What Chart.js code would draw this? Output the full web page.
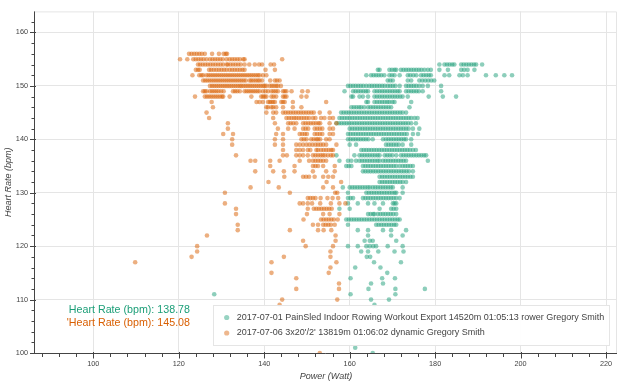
<!DOCTYPE html>
<html>
<head>
<meta charset="utf-8">
<script src="https://cdn.jsdelivr.net/npm/chart.js@4.4.1/dist/chart.umd.min.js"></script>
<style>
html,body{margin:0;padding:0;background:#fff;}
#wrap{width:620px;height:384px;position:relative;}
</style>
</head>
<body>
<div id="wrap"><canvas id="c" width="620" height="384"></canvas></div>
<script>
// ---------- DATA ----------
const seriesNames = [
  "2017-07-01 PainSled Indoor Rowing Workout Export 14520m 01:05:13 rower Gregory Smith",
  "2017-07-06 3x20'/2' 13819m 01:06:02 dynamic Gregory Smith"
];
const annotationTexts = ["Heart Rate (bpm): 138.78", "'Heart Rate (bpm): 145.08"];
const xAxisTitle = "Power (Watt)";
const yAxisTitle = "Heart Rate (bpm)";
const xMajorTicks = [100, 120, 140, 160, 180, 200, 220];
const yMajorTicks = [100, 110, 120, 130, 140, 150, 160];

// Series 1 (green): heart-rate rows and the power readings in each row
const greenHR = [154,153,152,151,150,149,148,147,146,145,144,143,142,141,140,139,138,137,136,135,134,133,132,131,130,129,128,127,126,125,124,123,122,121,120,119,118,117,116,115,114,113,112,111,110,109,101,100];
const greenPower = [
  [181,182.2,182.8,183.4,184,184.5,186.1,186.7,187.3,187.9,188.5,189.1,189.6,191],
  [166.6,167,169.3,169.9,170.5,170.9,172,172.6,173.2,173.8,174.4,175,175.6,176.2,176.8,177.5,178.3,179,181,183,186.1,186.8,187.6,189.2],
  [163.9,165,165.6,166.2,166.8,167.4,168.1,169.3,169.9,170.5,171.7,173.6,174.2,174.9,175.6,176.7,177.3,177.9,178.5,179,182.2,183.3,185.7,186.5,187.6,191.9,194.2,196.2,198],
  [168.9,169.5,170.1,173.6,174.4,176.3,177,177.7,178.4,179.1,179.8],
  [159.6,160.2,160.8,161.4,162,162.6,163.2,163.9,164.6,165.2,165.8,166.4,167,167.6,168.2,168.9,169.5,170.1,170.7,171.7,173.2,173.8,174.4,175,175.6,176.3,177.1,178.3,181.4],
  [158.8,160.8,161.4,162,162.6,163.2,163.8,164.3,165.8,166.4,167,167.6,168.2,168.8,169.4,170,170.6,171.2,171.7,173.2,173.8,174.4,175,175.6,176.2,177.1,181.4],
  [160.4,160.8,162.3,163.1,164.3,165.8,166.4,167,167.6,168.2,168.8,169.4,170,170.6,171.2,171.8,172.4,173.6,178.5,181.8,184.9],
  [163.9,164.3,165.8,166.4,167,167.6,168.2,168.8,169.3,170,170.5,174.4],
  [160.4,161,161.6,162.2,162.7,163.4,164.3,164.9,165.5,166.1,166.7,167.3,167.9,168.5,169.1,169.7,174],
  [158,158.6,159.2,159.8,160.4,161,161.6,162.2,162.8,163.4,164,164.6,165.2,165.8,166.4,167,167.6,168.2,168.8,169.4,170,170.6,171.2,171.8,172.4,173.2],
  [157.6,158.2,158.8,159.4,160,160.6,161.2,161.8,162.4,163,163.6,164.2,164.8,165.4,166,166.6,167.2,167.8,168.4,169,169.6,170.2,170.8,171.4,172,172.6,173.2,173.8,174.4,175.2,175.9],
  [156.9,157.5,158.1,158.7,159.3,159.9,160.5,161.1,161.7,162.3,162.9,163.5,164.1,164.7,165.3,165.9,166.5,167.1,167.7,168.3,168.9,169.5,170.1,170.7,171.3,171.9,172.5,173.1,173.7,174.4,175.5],
  [160,160.6,161.2,161.8,162.4,163,163.6,164.2,164.8,165.4,166,166.6,167.2,167.8,168.4,169,169.6,170.2,170.8,171.4,172,172.6,173.2,173.8,174.8,176.3],
  [159.6,160.2,160.8,161.4,162,162.6,163.2,163.8,164.4,165,165.6,166.2,166.8,167.4,168,168.6,169.2,169.8,170.4,171,171.6,172.2,172.8,173.4,174.8,176],
  [159.6,160.2,160.8,161.4,162,162.6,163.2,163.8,164.4,165.4,167.8,168.5,169.1,169.7,170.3,170.9,171.5,172.1,172.7,173.2,174.4],
  [160,161.5,168.5,169.1,169.7,170.3,170.9,171.5,172.4,174.4],
  [162.7,163.3,163.9,164.5,165.1,165.7,166.3,166.9,167.5,168.1,168.7,169.3,169.9,170.5,171.1,171.7,172.3,172.9,173.5,174.1,174.8,175.5],
  [156.9,161.1,162.3,162.9,163.5,164.1,164.7,165.3,165.9,166.5,167,168.2,168.8,169.4,170,170.9,172,172.6,173.2,173.8,174.4,175,175.6,176.2,176.8,177.4,177.9],
  [157.6,159.6,160.4,161.5,162.3,162.9,163.5,164.1,164.7,165.3,165.9,166.5,167,167.8,168.4,169,169.6,170.2,170.8,171.4,172,172.6,173.2,178.3],
  [159.2,159.8,160.4,163.1,163.7,164.3,164.9,165.5,166.1,166.7,167.3,167.9,168.5,169.1,169.7,170.3,170.9,171.7,172.4,173,173.6,174.2,174.8],
  [163.1,163.7,164.3,164.9,165.5,166.1,166.7,167.3,167.9,168.5,169.1,169.7,170.3,170.9,171.5,172.1,172.7,173.3,173.9,174.8],
  [167,167.6,168.2,168.8,169.4,170,170.6,171.2,171.8,172.4,173,173.6,174.2,174.8],
  [167,167.6,168.2,168.8,169.4,170,170.6,171.2,171.8,172.4,173.2],
  [158.4,160,160.6,161.2,161.8,162.4,163,163.6,164.2,164.7,165.4,166,166.6,167.2,167.8,168.4,169,169.6,170.1,172.4],
  [159.6,163.9,164.5,165.1,165.7,166.3,166.9,167.5,168.1,168.7,169.3,169.9,170.5,170.9,172.4],
  [159.6,160.2,160.8,163.1,163.7,164.3,164.9,165.5,166.1,166.7,167.3,167.9,168.5,169.1,169.7,170.3,170.9,171.7],
  [159.6,161.9,164.3,165.8,167.8,170.1,170.5,170.9],
  [157.6,160,167,169.7,170.3,170.9],
  [164.3,164.9,165.5,165.8,166.6,167.2,167.8,168.4,169,169.6,170.2,170.9],
  [159.2,159.8,160.4,161,161.6,162.2,162.8,163.4,164,164.6,165.2,165.8,166.4,167,167.6,168.2,168.8,169.4,170,170.6,171.2,171.7],
  [159.6,166.2,166.8,167.4,168,168.6,169.2,169.8,170.4,170.9],
  [161.9,164.3,167.8,169.7,173.2],
  [164.3,169.7,172.4],
  [163.5,164.7,165.4,170.9],
  [159.6,161.9,163.9,164.7,165.5,166.2,168.9,172.4],
  [162.7,164.3,166.7,170.5,172.6],
  [164,164.8],
  [165.7,172],
  [161.3,167.2],
  [168.8],
  [160.2,167.6,170.6],
  [165,167.8],
  [164.4,170.7,177.6],
  [128.3,160.2,170.7],
  [165,169.2],
  [165.8],
  [161.3],
  [165.4]
];

// Series 2 (orange)
const orangeHR = [156,155,154,153,152,151,150,149,148,147,146,145,144,143,142,141,140,139,138,137,136,135,134,133,132,131,130,129,128,127,126,125,124,123,122,121,120,119,118,117,116,115,114,113,112,110,109,100];
const orangePower = [
  [122.4,123,123.6,124.2,124.8,125.4,126.1,127.8,129.4,130.5,131,131.3],
  [120.3,122,123.4,124,124.6,125.2,125.8,126.5,127.3,127.9,128.5,129.1,129.7,130.3,131.2,131.9,132.5,133.1,133.7,134.3,135.1,135.4,144.2],
  [124.5,125,125.6,126.2,126.8,127.4,128,128.6,129.2,129.8,130.4,131.2,131.5,132.1,132.7,133.3,133.9,134.5,135.4,136.5,137.8,138.8,139.5,141.5,142.3],
  [124,124.5,124.9,127.1,127.6,128.2,128.8,129.4,130,130.6,131.2,131.9,132.5,133.1,133.7,134.3,134.9,135.4,140.3,142.5],
  [123.2,124.8,125.3,125.7,126.5,127,127.5,128,128.5,129,129.5,130,130.5,131,131.5,132,132.5,133,133.5,134,134.5,135,135.5,136,136.5,137,137.5,138,138.5,138.9,139.7,140.5],
  [125.7,126.2,126.7,127.2,127.7,128.2,128.7,129.2,129.7,130.2,130.7,131.2,131.7,132.2,132.7,133.2,133.7,134.2,134.7,135.2,135.7,136.6,137,137.5,138,138.5,138.9,139.5,141.4,142.5,143,143.6],
  [127.3,127.8,128.3,128.8,129.3,129.8,130.3,130.8,131.3,131.8,132.3,132.8,133.3,133.8,134.3,134.7,135.2,135.7,136.2,136.7,137.2,137.7,138.2,138.7,139.2,139.7,140.1,140.5,141.3,141.8,142.3,142.8,143.2,143.9],
  [125.7,126.1,126.5,127.3,127.8,128.3,128.8,129.3,129.9,130.5,132.7,133.2,133.7,134.3,135.4,135.9,136.4,136.9,137.4,137.9,138.4,138.9,139.7,140.3,140.9,141.7,142.2,142.7,143.2,144.4,144.8,145.2,146.4,148.9,150.2],
  [123.8,126.1,126.6,127.1,127.6,128.1,128.6,129.1,129.6,130.1,130.4,131.9,137,139.3,139.7,140.1,140.5,141.7,142.2,142.8,144.4,144.8,145.2,148.7,149.9],
  [127.7,138.2,138.9,139.7,140.9,141.3,141.7,142.1,142.5,144,144.4,144.8,146.7,154.5],
  [128,140.5,140.9,141.7,142.1,142.8,144.4,146.7,148.7],
  [126.5,140.5,142.1,142.8,144.4,145,145.6,146.2,146.8,147.4,148,148.6,149.2,149.8,150.4,151,151.6,153,155.3],
  [127.1,142.1,145.2,145.8,146.4,147,147.5,148.1,148.7,149.3,149.9,150.5,151.4,152,153.3,154.1,155.3,156.1],
  [131.5,142.5,145.6,146.2,146.8,147.5,149.1,149.7,150.3,150.9,151.5,152.1,152.7,153.1,155.3,156.9],
  [131.5,143.2,145.6,147.1,149.1,149.7,150.3,151.8,152.4,153,153.6,155.3,156.1],
  [130.4,132.7,142.8,144.4,148.3,148.9,149.5,150,151.8,152.4,153,153.6,155.3,156.1],
  [132.5,142.5,144.4,148.7,149.3,149.9,151,151.6,152.2,152.6,153.1,154.5,155.3],
  [132.5,142.5,144.4,147.5,148.3,149.1,149.9,150.6,151.3,152,152.6,153.2,153.8,154.5,156.9],
  [144.4,147.5,148.3,149.1,150.2,150.8,152.2,152.6,153.3,153.9,154.5,155.1,155.7,156.1],
  [133.4,144.4,145.3,147.5,148.3,149.1,150.2,151.4,152,152.6,153.2,153.7,154.2,154.9,155.6,156.1],
  [136.8,137.9,141.4,143.6,148.3,150.5,151.4,152,152.6,153.2,153.8,154.5],
  [141.4,147.1,151.4,152,152.6,153.8,156.5],
  [137.9,142.1,144.6,147.1,151.4,154.5,156.5],
  [144.7,149.1,149.8,150.5,151.8,153.8,155,156.1],
  [141,154.6,158],
  [136.8,143.4,153.8,156.1],
  [130.8,146,156.6,157.1],
  [150.2,150.8,151.4,152,153.2,154.8,156,157.3],
  [130.8,148.3,149.1,150.2,151.2,153.1,155.6,157.6,159],
  [133.4,150.2,151.6,152.2,152.8,153.4,154,154.6,155.2,155.8],
  [133.4,150,153.8,155.3,157.6],
  [149.2,153.3,153.9,154.5,155.1,155.7,156.3,157.2],
  [133.8,151.4,152.6,153.8,154.4,155,155.6,156.5],
  [133.8,146,152.6,153.9,155.7],
  [126.6,156.7],
  [149.1,156.7],
  [124.3,149.7,156.1],
  [124.3,155.5],
  [123,144.6,155.5],
  [109.8,141.7,156.9],
  [155.5],
  [141.7,155.1],
  [147.5],
  [157.5],
  [147.5,157.5],
  [144.2,157.1],
  [143.6],
  [153]
];

// ---------- BUILD ----------
function toPoints(hrs, powers) {
  const pts = [];
  hrs.forEach((hr, i) => powers[i].forEach(p => pts.push({x: p, y: hr})));
  return pts;
}
const GREEN = '#1b9e77', ORANGE = '#d95f02';
const FONT = "'Liberation Sans', Arial, Helvetica, sans-serif";
const X_MIN = 86.35, X_MAX = 222.57, Y_MIN = 100, Y_MAX = 163.95;

function minorList(step, lo, hi) {
  const out = [];
  for (let v = Math.ceil(lo / step) * step; v <= hi + 1e-9; v += step) out.push(Math.round(v * 100) / 100);
  return out;
}
const xTicksAll = minorList(4, X_MIN, X_MAX);
const yTicksAll = minorList(2, Y_MIN, Y_MAX);

const decorations = {
  id: 'decorations',
  beforeDatasetsDraw(chart) {
    const {ctx, chartArea: a} = chart;
    ctx.save();
    ctx.strokeStyle = '#e5e5e5';
    ctx.lineWidth = 1;
    ctx.beginPath();
    ctx.moveTo(a.left, a.top + 0.5); ctx.lineTo(a.right - 0.5, a.top + 0.5); ctx.lineTo(a.right - 0.5, a.bottom);
    ctx.stroke();
    ctx.restore();
  },
  afterDraw(chart) {
    const {ctx, chartArea: a, scales} = chart;
    const xs = scales.x, ys = scales.y;
    ctx.save();
    ctx.strokeStyle = '#444';
    ctx.lineWidth = 1;
    ctx.beginPath();
    ctx.moveTo(a.left - 0.5, a.top); ctx.lineTo(a.left - 0.5, a.bottom + 0.5);
    ctx.lineTo(a.right, a.bottom + 0.5);
    ctx.stroke();
    ctx.beginPath();
    yTicksAll.forEach(v => {
      const py = Math.round(ys.getPixelForValue(v)) + 0.5;
      const major = yMajorTicks.includes(v);
      ctx.moveTo(a.left - (major ? 5 : 3.5), py);
      ctx.lineTo(a.left + (major ? 1 : -0.5), py);
    });
    xTicksAll.forEach(v => {
      const px = Math.round(xs.getPixelForValue(v)) + 0.5;
      const major = xMajorTicks.includes(v);
      ctx.moveTo(px, a.bottom - (major ? 1 : 0));
      ctx.lineTo(px, a.bottom + (major ? 5.5 : 4));
    });
    ctx.stroke();
    ctx.fillStyle = '#444';
    ctx.font = 'italic 9px ' + FONT;
    ctx.textAlign = 'center';
    ctx.textBaseline = 'middle';
    ctx.fillText(xAxisTitle, (a.left + a.right) / 2, 376.5);
    ctx.save();
    ctx.translate(8.5, (a.top + a.bottom) / 2);
    ctx.rotate(-Math.PI / 2);
    ctx.fillText(yAxisTitle, 0, 0);
    ctx.restore();
    ctx.font = '10.7px ' + FONT;
    ctx.textAlign = 'right';
    ctx.fillStyle = GREEN;
    ctx.fillText(annotationTexts[0], 190, 310.5);
    ctx.fillStyle = ORANGE;
    ctx.fillText(annotationTexts[1], 190, 323.5);
    ctx.fillStyle = 'rgba(255,255,255,0.95)';
    ctx.fillRect(213, 305, 397, 41);
    ctx.strokeStyle = '#e5e5e5';
    ctx.strokeRect(213.5, 305.5, 396, 40);
    const cols = ['rgba(27,158,119,0.45)', 'rgba(217,95,2,0.45)'];
    const ly = [317.5, 333];
    ctx.font = '9px ' + FONT;
    ctx.textAlign = 'left';
    for (let i = 0; i < 2; i++) {
      ctx.fillStyle = cols[i];
      ctx.beginPath();
      ctx.arc(226.7, ly[i], 2.6, 0, Math.PI * 2);
      ctx.fill();
      ctx.fillStyle = '#444';
      ctx.fillText(seriesNames[i], 236.7, ly[i]);
    }
    ctx.restore();
  }
};

new Chart(document.getElementById('c'), {
  type: 'scatter',
  data: {
    datasets: [
      {label: seriesNames[0], data: toPoints(greenHR, greenPower), backgroundColor: 'rgba(27,158,119,0.5)', borderWidth: 0, pointRadius: 2.3, pointHoverRadius: 2.3, order: 1},
      {label: seriesNames[1], data: toPoints(orangeHR, orangePower), backgroundColor: 'rgba(217,95,2,0.5)', borderWidth: 0, pointRadius: 2.3, pointHoverRadius: 2.3, order: 0}
    ]
  },
  options: {
    responsive: false,
    animation: false,
    devicePixelRatio: 1,
    layout: {padding: {left: 0, top: 3, right: 3, bottom: 0}},
    plugins: {legend: {display: false}, tooltip: {enabled: false}},
    events: [],
    scales: {
      x: {
        type: 'linear', min: X_MIN, max: X_MAX,
        afterFit: s => { s.height = 31; },
        afterBuildTicks: s => { s.ticks = xTicksAll.map(v => ({value: v})); },
        border: {display: false},
        grid: {drawTicks: false, color: c => (c.tick && xMajorTicks.includes(c.tick.value)) ? '#e5e5e5' : 'rgba(0,0,0,0)', lineWidth: 1},
        ticks: {autoSkip: false, maxRotation: 0, padding: 6.5, color: '#444', font: {family: FONT, size: 7.3},
          callback: v => xMajorTicks.includes(v) ? String(v) : ''}
      },
      y: {
        type: 'linear', min: Y_MIN, max: Y_MAX,
        afterFit: s => { s.width = 35; },
        afterBuildTicks: s => { s.ticks = yTicksAll.map(v => ({value: v})); },
        border: {display: false},
        grid: {drawTicks: false, color: c => (c.tick && yMajorTicks.includes(c.tick.value)) ? '#e5e5e5' : 'rgba(0,0,0,0)', lineWidth: 1},
        ticks: {autoSkip: false, padding: 7, color: '#444', font: {family: FONT, size: 7.3},
          callback: v => yMajorTicks.includes(v) ? String(v) : ''}
      }
    }
  },
  plugins: [decorations]
});
</script>
</body>
</html>
